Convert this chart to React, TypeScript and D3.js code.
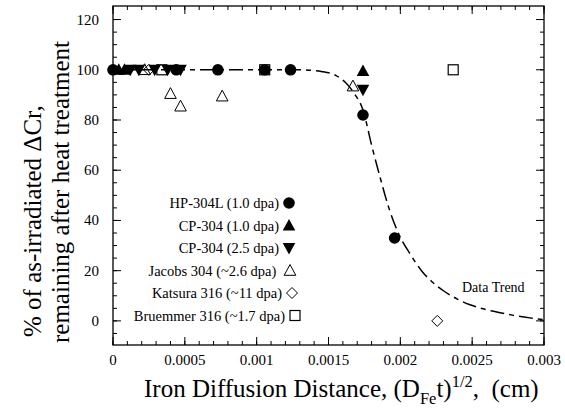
import React from "react";
import * as d3 from "d3";

const W = 565;
const H = 408;
const margin = { top: 6, right: 21, bottom: 63, left: 113 };

// series: [diffusion distance (cm), % remaining]
const hp304L = [
  [0, 100], [0.00044, 100], [0.00073, 100], [0.001056, 100], [0.001236, 100],
  [0.00174, 82], [0.00196, 33],
];
const cp304a = [
  [0.00004, 100], [0.00008, 100], [0.00174, 99.5],
];
const cp304b = [
  [0.00012, 100], [0.00018, 100], [0.00029, 100], [0.00038, 100], [0.00047, 100],
  [0.00174, 92],
];
const jacobs = [
  [0.00022, 100], [0.0004, 90.5], [0.00047, 85.5], [0.00076, 89.5], [0.00167, 93.5],
];
const katsura = [
  [0.00025, 100], [0.002257, 0],
];
const bruemmer = [
  [0.00034, 100], [0.001056, 100], [0.002368, 100],
];
const trend = [
  [0, 100], [0.0013, 100], [0.00145, 99.3], [0.00155, 97.8], [0.00162, 94.8],
  [0.00168, 90.5], [0.00174, 84], [0.0018, 70], [0.00186, 57], [0.00192, 45],
  [0.00199, 34.5], [0.00207, 26.5], [0.00215, 19.8], [0.00222, 15.6], [0.0023, 12],
  [0.0024, 8.6], [0.00248, 6.5], [0.00255, 5.2], [0.00265, 3.8], [0.00278, 2.3],
  [0.0029, 1.2], [0.003, 0.5],
];

const xTicks = [0, 0.0005, 0.001, 0.0015, 0.002, 0.0025, 0.003];
const xTickLabels = ["0", "0.0005", "0.001", "0.0015", "0.002", "0.0025", "0.003"];
const yTicks = [0, 20, 40, 60, 80, 100, 120];

const legendLabels = [
  "HP-304L (1.0 dpa)",
  "CP-304 (1.0 dpa)",
  "CP-304 (2.5 dpa)",
  "Jacobs 304 (~2.6 dpa) ",
  "Katsura 316 (~11 dpa)",
  "Bruemmer 316 (~1.7 dpa)",
];
const legendShapes = ["circle", "up", "down", "openUp", "diamond", "square"];
// small horizontal offsets of the legend rows (layout only)
const legendShift = [0, 0, 0, 1, 3, 6];

const font = "'Liberation Serif', 'Times New Roman', serif";

const Marker = ({ shape, x, y }: { shape: string; x: number; y: number }) => {
  if (shape === "circle") return <circle cx={x} cy={y} r={5.8} fill="#000" />;
  if (shape === "up")
    return <path d={`M${x},${y - 6.5} L${x + 6.3},${y + 5} L${x - 6.3},${y + 5} Z`} fill="#000" />;
  if (shape === "down")
    return <path d={`M${x},${y + 6.5} L${x + 6.3},${y - 5} L${x - 6.3},${y - 5} Z`} fill="#000" />;
  if (shape === "openUp")
    return (
      <path
        d={`M${x},${y - 6} L${x + 5.8},${y + 4.8} L${x - 5.8},${y + 4.8} Z`}
        fill="none"
        stroke="#000"
        strokeWidth={1}
      />
    );
  if (shape === "diamond")
    return (
      <path
        d={`M${x},${y - 5.5} L${x + 5.5},${y} L${x},${y + 5.5} L${x - 5.5},${y} Z`}
        fill="none"
        stroke="#000"
        strokeWidth={1}
      />
    );
  return <rect x={x - 5} y={y - 5} width={10} height={10} fill="none" stroke="#000" strokeWidth={1.2} />;
};

export default function App() {
  const x0 = margin.left;
  const x1 = W - margin.right;
  const y0 = margin.top;
  const y1 = H - margin.bottom;

  const xScale = d3.scaleLinear().domain([0, 0.003]).range([x0, x1]);
  const yScale = d3.scaleLinear().domain([-10, 125]).range([346, 7]);

  const line = d3
    .line<number[]>()
    .x((d) => xScale(d[0]))
    .y((d) => yScale(d[1]))
    .curve(d3.curveMonotoneX);

  const xMinor = d3.range(0, 0.00301, 0.0001);
  const yMinor = d3.range(-5, 125, 5);

  const series: [number[][], string][] = [
    [jacobs, "openUp"],
    [katsura, "diamond"],
    [hp304L, "circle"],
    [cp304a, "up"],
    [cp304b, "down"],
    [bruemmer, "square"],
  ];

  return (
    <svg width={W} height={H} style={{ position: "absolute", left: 0, top: 0, background: "#fff" }}>
      <rect width={W} height={H} fill="#fff" />
      {/* minor ticks */}
      {xMinor.map((t, i) => (
        <g key={"xm" + i}>
          <line x1={xScale(t)} x2={xScale(t)} y1={y1} y2={y1 - 4} stroke="#000" />
          <line x1={xScale(t)} x2={xScale(t)} y1={y0} y2={y0 + 4} stroke="#000" />
        </g>
      ))}
      {yMinor.map((t, i) => (
        <g key={"ym" + i}>
          <line x1={x0} x2={x0 + 4} y1={yScale(t)} y2={yScale(t)} stroke="#000" />
          <line x1={x1} x2={x1 - 4} y1={yScale(t)} y2={yScale(t)} stroke="#000" />
        </g>
      ))}
      {/* major ticks */}
      {xTicks.map((t, i) => (
        <g key={"x" + i}>
          <line x1={xScale(t)} x2={xScale(t)} y1={y1} y2={y1 - 8} stroke="#000" />
          <line x1={xScale(t)} x2={xScale(t)} y1={y0} y2={y0 + 8} stroke="#000" />
          <text x={xScale(t)} y={y1 + 20} textAnchor="middle" fontFamily={font} fontSize={15}>
            {xTickLabels[i]}
          </text>
        </g>
      ))}
      {yTicks.map((t, i) => (
        <g key={"y" + i}>
          <line x1={x0} x2={x0 + 8} y1={yScale(t)} y2={yScale(t)} stroke="#000" />
          <line x1={x1} x2={x1 - 8} y1={yScale(t)} y2={yScale(t)} stroke="#000" />
          <text x={x0 - 14} y={yScale(t) + 5} textAnchor="end" fontFamily={font} fontSize={15}>
            {t}
          </text>
        </g>
      ))}
      <rect x={x0} y={y0} width={x1 - x0} height={y1 - y0} fill="none" stroke="#000" strokeWidth={1.3} />

      {/* trend */}
      <path
        d={line(trend) || ""}
        fill="none"
        stroke="#000"
        strokeWidth={1.5}
        strokeDasharray="14,5,5,5"
      />
      <text x={462} y={292} fontFamily={font} fontSize={14}>
        Data Trend
      </text>

      {/* data */}
      {series.map(([data, shape], si) =>
        data.map((d, i) => (
          <Marker key={si + "-" + i} shape={shape} x={xScale(d[0])} y={yScale(d[1])} />
        ))
      )}

      {/* legend */}
      {legendLabels.map((label, i) => {
        const ly = 203 + i * 22.5;
        const sx = 289 + legendShift[i];
        return (
          <g key={"lg" + i}>
            <text
              x={sx - 10}
              y={ly + 5}
              textAnchor="end"
              fontFamily={font}
              fontSize={14.5}
              style={{ whiteSpace: "pre" }}
            >
              {label}
            </text>
            <Marker shape={legendShapes[i]} x={sx} y={ly} />
          </g>
        );
      })}

      {/* axis titles */}
      <text
        transform={`translate(41,337) rotate(-90)`}
        textAnchor="start"
        fontFamily={font}
        fontSize={25}
      >
        % of as-irradiated ΔCr,
      </text>
      <text
        transform={`translate(69,343) rotate(-90)`}
        textAnchor="start"
        fontFamily={font}
        fontSize={25}
      >
        remaining after heat treatment
      </text>
      <text x={144} y={397} textAnchor="start" fontFamily={font} fontSize={25} style={{ whiteSpace: "pre" }}>
        Iron Diffusion Distance, (D
        <tspan fontSize={16.5} dy={7}>Fe</tspan>
        <tspan dy={-7}>t)</tspan>
        <tspan fontSize={16.5} dy={-10}>1/2</tspan>
        <tspan dy={10}>{",  (cm)"}</tspan>
      </text>
    </svg>
  );
}
